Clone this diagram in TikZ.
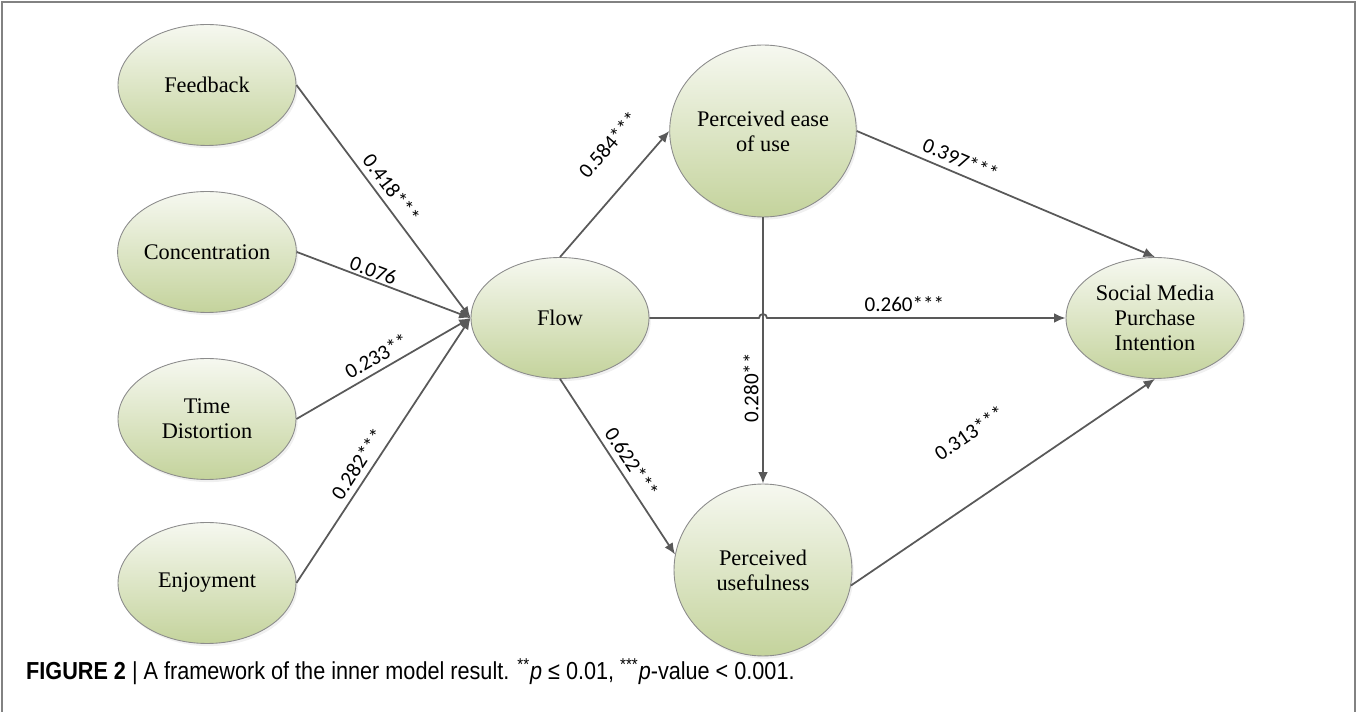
\documentclass[tikz,border=0pt]{standalone}
\usepackage{fontspec}
\setmainfont{Liberation Serif}
\newfontfamily\numfont{Carlito}
\newfontfamily\capfont[FakeStretch=0.88]{Liberation Sans}
\usepackage{tikz}
\usetikzlibrary{positioning}
\usetikzlibrary{arrows.meta}
\usetikzlibrary{shapes.geometric}
\usetikzlibrary{shadows}
\usetikzlibrary{calc}
\definecolor{lineg}{RGB}{89,89,89}
\definecolor{rimg}{RGB}{140,140,140}
\definecolor{topg}{RGB}{246,248,240}
\definecolor{botg}{RGB}{196,211,156}
\definecolor{frameg}{RGB}{130,130,130}

\begin{document}
\begin{tikzpicture}[x=0.02cm, y=-0.02cm, >={Latex[length=6.5pt,width=5.5pt]},
var/.style={ellipse, draw=rimg, line width=0.5pt, top color=topg, bottom color=botg, minimum width=3.56cm, minimum height=2.42cm, inner sep=0pt, align=center, font=\fontsize{12.7}{14.2}\selectfont, drop shadow={opacity=0.12, shadow xshift=1pt, shadow yshift=-1.5pt}},
bigvar/.style={var, minimum height=3.44cm},
link/.style={->, lineg, line width=1pt},
coef/.style={font=\numfont\fontsize{12}{14}\selectfont, text=black, sloped, above}]
\useasboundingbox (0,0) rectangle (1357,712);

% frame
\draw[frameg, line width=0.8pt] (2,712) -- (2,2) -- (1355,2) -- (1355,712);

% constructs
\node [var](fb) at (207,85) {Feedback};
\node [var](conc) at (207,252) {Concentration};
\node [var](td) at (207,419) {Time\\Distortion};
\node [var](enj) at (207,583) {Enjoyment};
\node [var](flow) at (560,318) {Flow};
\node [bigvar](peou) at (763,131) {Perceived ease\\of use};
\node [bigvar](pu) at (763,570) {Perceived\\usefulness};
\node [var](smpi) at (1155,318) {Social Media\\Purchase\\Intention};

% paths into flow
\draw [link] (fb.east) -- node[coef, pos=0.48]{0.418***} (flow.west);
\draw [link] (conc.east) -- node[coef, pos=0.42, inner sep=1pt]{0.076} (flow.west);
\draw [link] (td.east) -- node[coef, pos=0.5]{0.233**} (flow.west);
\draw [link] (enj.east) -- node[coef, pos=0.42]{0.282***} (flow.west);

% paths out of flow
\draw [link] (flow.north) -- node[coef, pos=0.7, above=13pt]{0.584***} (peou.west);
\draw [link] (flow.south) -- node[coef, pos=0.52]{0.622***} (pu.170);
\coordinate (hop) at (peou.south |- flow.east);
\draw [link] (flow.east) -- ([xshift=-0.08cm]hop) arc[start angle=180, end angle=0, radius=0.08cm]
  -- node[coef, pos=0.46]{0.260***} (smpi.west);

% paths to intention
\draw [link] (peou.east) -- node[coef, pos=0.33]{0.397***} (smpi.north);
\draw [link] (pu.-10) -- node[coef, pos=0.5, above=26pt]{0.313***} (smpi.south);
\draw [link] (peou.south) -- node[pos=0.64, rotate=90, anchor=south, inner sep=2pt, text=black, font=\numfont\fontsize{12}{14}\selectfont]{0.280**} (pu.north);

% caption
\node [anchor=base west, font=\capfont\fontsize{14}{16}\selectfont](cap) at (20,680)
  {\textbf{FIGURE 2} | A framework of the inner model result. \textsuperscript{**}\emph{p} ≤ 0.01, \textsuperscript{***}\emph{p}-value < 0.001.};
\end{tikzpicture}
\end{document}
